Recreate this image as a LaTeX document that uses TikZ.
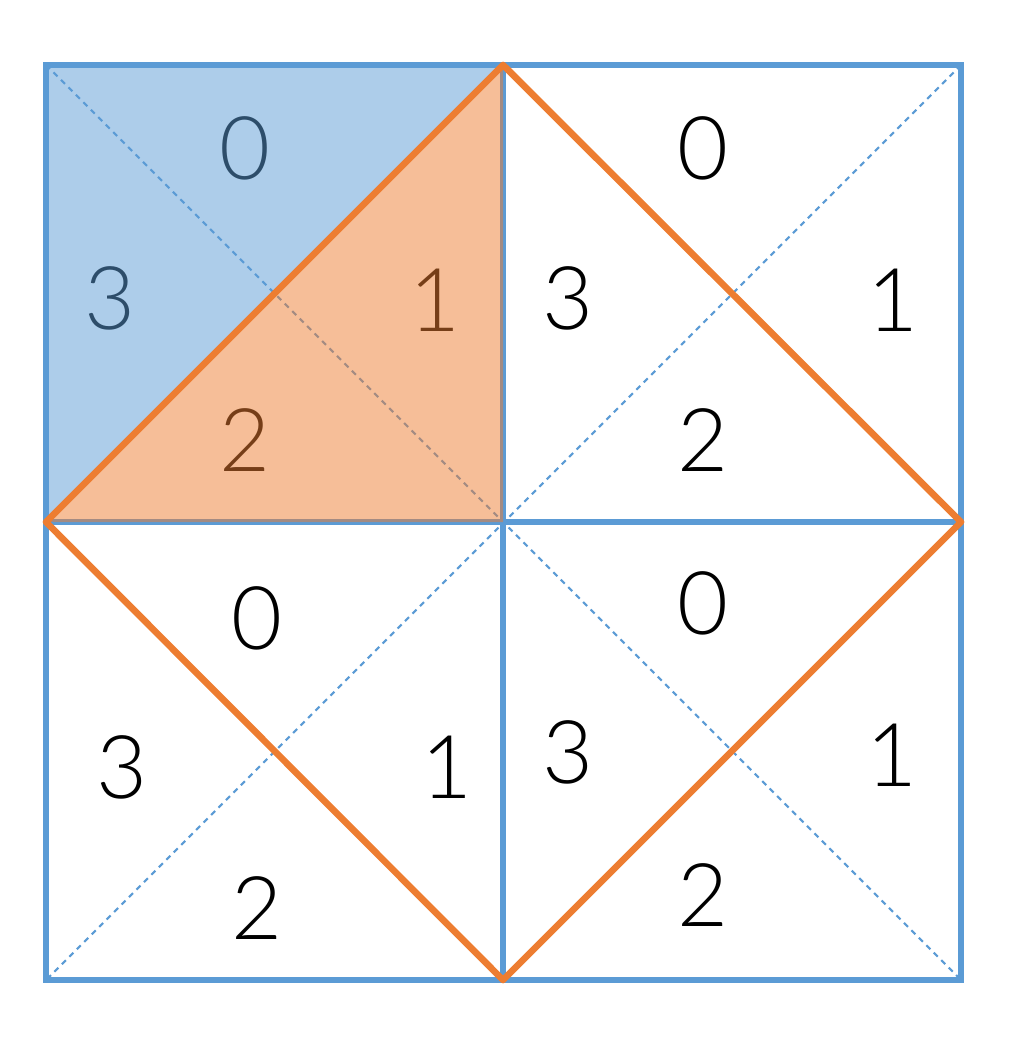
\documentclass[tikz,border=0pt]{standalone}
\usepackage{fontspec}
\IfFontExistsTF{Lato Light}{\setmainfont{Lato Light}}{\setmainfont{Lato}}
\usepackage{tikz}
\usetikzlibrary{positioning,calc}
\definecolor{gridblue}{RGB}{91,155,213}
\definecolor{kiteorange}{RGB}{237,125,49}

\begin{document}
\begin{tikzpicture}[x=0.01cm,y=-0.01cm,font=\fontsize{25}{29}\selectfont]
\useasboundingbox (0,0) rectangle (1024,1037);
\tikzset{num/.style={inner sep=0pt}}
\tikzset{grid/.style={gridblue,line width=1.7pt}}
\tikzset{diag/.style={gridblue,line width=0.6pt,dash pattern=on 1.6pt off 1.4pt}}
\tikzset{kite/.style={kiteorange,line width=1.9pt,line join=round}}
% corners and midpoints
\coordinate (tl) at (46,65);   \coordinate (tm) at (503,65);  \coordinate (tr) at (961,65);
\coordinate (ml) at (46,522);  \coordinate (c)  at (503,522); \coordinate (mr) at (961,522);
\coordinate (bl) at (46,980);  \coordinate (bm) at (503,980); \coordinate (br) at (961,980);
% labels
\foreach \q/\dx/\dy in {a/0/0, b/458/0} {
  \node[num] (\q0) at (245+\dx,148+\dy) {0};
  \node[num] (\q3) at (110+\dx,298+\dy) {3};
  \node[num] (\q1) at (435+\dx,300+\dy) {1};
  \node[num] (\q2) at (245+\dx,440+\dy) {2};
}
\node[num] (c0) at (257,618) {0};
\node[num] (c3) at (122,767) {3};
\node[num] (c1) at (447,767) {1};
\node[num] (c2) at (257,908) {2};
\node[num] (d0) at (703,603) {0};
\node[num] (d3) at (568,752) {3};
\node[num] (d1) at (892,755) {1};
\node[num] (d2) at (703,895) {2};
% dashed diagonals
\draw[diag] (tl) -- (br);
\draw[diag] (tr) -- (bl);
% grid
\draw[grid] (tl) rectangle (br);
\draw[grid] (tm) -- (bm);
\draw[grid] (ml) -- (mr);
% shaded triangles
\fill[gridblue,opacity=0.5] (tl) -- (tm) -- (ml) -- cycle;
\fill[kiteorange,opacity=0.5] (tm) -- (c) -- (ml) -- cycle;
% orange diamond
\draw[kite] (tm) -- (mr) -- (bm) -- (ml) -- cycle;
\end{tikzpicture}
\end{document}
